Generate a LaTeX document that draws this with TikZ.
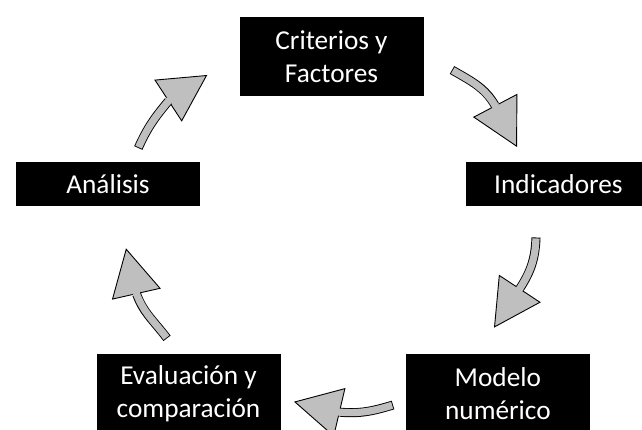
\documentclass[tikz,border=0pt]{standalone}
\usepackage{fontspec}
\setmainfont{Carlito}
\usepackage{xcolor}
\definecolor{arrowFill}{HTML}{BFBFBF}
\usetikzlibrary{%
    arrows.meta,
    positioning
}

\begin{document}
\begin{tikzpicture}[x=1pt, y=1pt,
                box/.style={rectangle, minimum width=184pt, minimum height=44pt, text centered, fill=black, text=white, align=center, font=\fontsize{27.3}{33}\selectfont},
                tallbox/.style={box, minimum height=79pt},
                head/.style={draw=black, line width=0.9pt, -{Triangle[length=47pt, width=50pt, fill=arrowFill]}},
                shaft/.style={draw=arrowFill, line width=7.2pt, shorten <=0.9pt, preaction={draw=black, line width=9pt, shorten <=0pt, shorten >=2pt}}
            ]
            \useasboundingbox (0,0) rectangle (642,430);

            \node (crit) at (331.5,373.5) [tallbox] {Criterios y \\ Factores};
            \node (ana) at (108,245.5) [box] {Análisis};
            \node (ind) [box, right=266pt of ana] {Indicadores};
            \node (eval) at (188.5,36.5) [tallbox] {Evaluación y \\ comparación};
            \node (mod) [tallbox, right=125pt of eval] {Modelo \\ numérico};

            % curved block arrows: tail, end of shaft, tip
            \coordinate (t1) at (452,360);
            \coordinate (m1) at (496,323);
            \coordinate (h1) at (517,283);
            \coordinate (t2) at (536,192.5);
            \coordinate (m2) at (518.8,139.9);
            \coordinate (h2) at (494,102.3);
            \coordinate (t3) at (393,25);
            \coordinate (m3) at (337.8,18);
            \coordinate (h3) at (294,28.3);
            \coordinate (t4) at (167,91.7);
            \coordinate (m4) at (136,137.5);
            \coordinate (h4) at (126,181.7);
            \coordinate (t5) at (138.3,282);
            \coordinate (m5) at (169.7,330.4);
            \coordinate (h5) at (207.3,355);

            \draw [head] (m1) -- (h1);
            \draw [shaft] (t1) to[out=-30, in=120] (m1);
            \draw [head] (m2) -- (h2);
            \draw [shaft] (t2) to[out=-92, in=57] (m2);
            \draw [head] (m3) -- (h3);
            \draw [shaft] (t3) to[out=197, in=-5] (m3);
            \draw [head] (m4) -- (h4);
            \draw [shaft] (t4) to[out=127, in=-70] (m4);
            \draw [head] (m5) -- (h5);
            \draw [shaft] (t5) to[out=66, in=230] (m5);
        \end{tikzpicture}
\end{document}
